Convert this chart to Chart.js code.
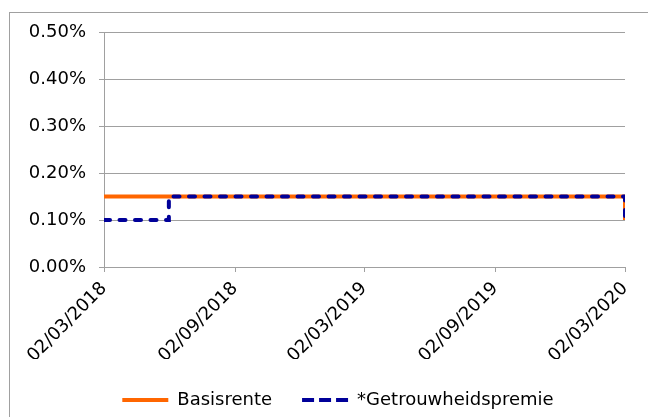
<!DOCTYPE html>
<html>
<head>
<meta charset="utf-8">
<script src="https://cdn.jsdelivr.net/npm/chart.js@4.4.1/dist/chart.umd.min.js"></script>
<style>
  html, body { margin: 0; padding: 0; background: #fff; }
  #wrap { position: relative; width: 648px; height: 417px; overflow: hidden; }
  #frame { position: absolute; left: 9px; top: 12px; width: 700px; height: 500px;
           border-left: 1px solid #a0a0a0; border-top: 1px solid #a0a0a0; }
  canvas { position: absolute; left: 0; top: 0; }
</style>
</head>
<body>
<div id="wrap">
  <div id="frame"></div>
  <canvas id="c" width="648" height="417"></canvas>
</div>
<script>
// ---- data ----
const tickLabels = ["02/03/2018", "02/09/2018", "02/03/2019", "02/09/2019", "02/03/2020"];
const basisDates = ["02/03/2018", "02/03/2020", "02/03/2020"];
const basisValues = [0.15, 0.15, 0.10];
const premieDates = ["02/03/2018", "01/06/2018", "01/06/2018", "02/03/2020", "02/03/2020"];
const premieValues = [0.10, 0.10, 0.15, 0.15, 0.10];
const seriesNames = ["Basisrente", "*Getrouwheidspremie"];

function dayNum(s) {
  const [d, m, y] = s.split("/").map(Number);
  return Date.UTC(y, m - 1, d) / 86400000;
}
const tickValues = tickLabels.map(dayNum);
const basisPts = basisDates.map((d, i) => ({ x: dayNum(d), y: basisValues[i] }));
const premiePts = premieDates.map((d, i) => ({ x: dayNum(d), y: premieValues[i] }));

const FONT = { family: "'DejaVu Sans', Verdana, sans-serif", size: 18 };

const legendShift = {
  id: "legendShift",
  afterLayout(chart) {
    chart.legend.left += 51;
    chart.legend.top += 2;
    chart.legend.bottom += 2;
  }
};

new Chart(document.getElementById("c"), {
  type: "line",
  plugins: [legendShift],
  data: {
    datasets: [
      {
        label: seriesNames[1], data: premiePts,
        borderColor: "#000099", backgroundColor: "#000099",
        borderWidth: 4, borderDash: [6, 9.5], borderCapStyle: "round",
        legendDash: [12, 5],
        pointRadius: 0, tension: 0, fill: false
      },
      {
        label: seriesNames[0], data: basisPts,
        borderColor: "#FF6600", backgroundColor: "#FF6600",
        borderWidth: 4, pointRadius: 0, tension: 0, fill: false
      }
    ]
  },
  options: {
    responsive: false,
    animation: false,
    devicePixelRatio: 1,
    layout: { padding: { left: 0, right: 23, top: 32, bottom: 0 } },
    plugins: {
      tooltip: { enabled: false },
      legend: {
        position: "bottom",
        reverse: true,
        labels: {
          usePointStyle: true,
          pointStyleWidth: 46,
          padding: 30,
          color: "#000",
          font: FONT,
          generateLabels: (chart) => chart.data.datasets.map((ds, i) => ({
            text: ds.label,
            fillStyle: ds.borderColor,
            strokeStyle: ds.borderColor,
            fontColor: "#000",
            lineWidth: ds.borderWidth,
            lineDash: ds.legendDash || [],
            lineCap: "butt",
            pointStyle: "line",
            hidden: false,
            datasetIndex: i
          }))
        }
      }
    },
    scales: {
      x: {
        type: "linear",
        min: tickValues[0],
        max: tickValues[tickValues.length - 1],
        afterBuildTicks: (s) => { s.ticks = tickValues.map(v => ({ value: v })); },
        afterFit: (s) => { s.height = 92; },
        grid: { display: true, drawOnChartArea: false, drawTicks: true, tickLength: 5, color: "#a0a0a0" },
        border: { display: true, color: "#a0a0a0", width: 1 },
        ticks: {
          autoSkip: false, minRotation: 45, maxRotation: 45, padding: 6,
          color: "#000", font: FONT,
          callback: (v, i) => tickLabels[i]
        }
      },
      y: {
        min: 0, max: 0.5,
        afterFit: (s) => { s.width = 104; },
        grid: { color: "#a0a0a0", tickLength: 5, lineWidth: 1 },
        border: { display: true, color: "#a0a0a0", width: 1 },
        ticks: {
          stepSize: 0.1, padding: 13, color: "#000", font: FONT,
          callback: (v) => v.toFixed(2) + "%"
        }
      }
    }
  }
});
</script>
</body>
</html>
